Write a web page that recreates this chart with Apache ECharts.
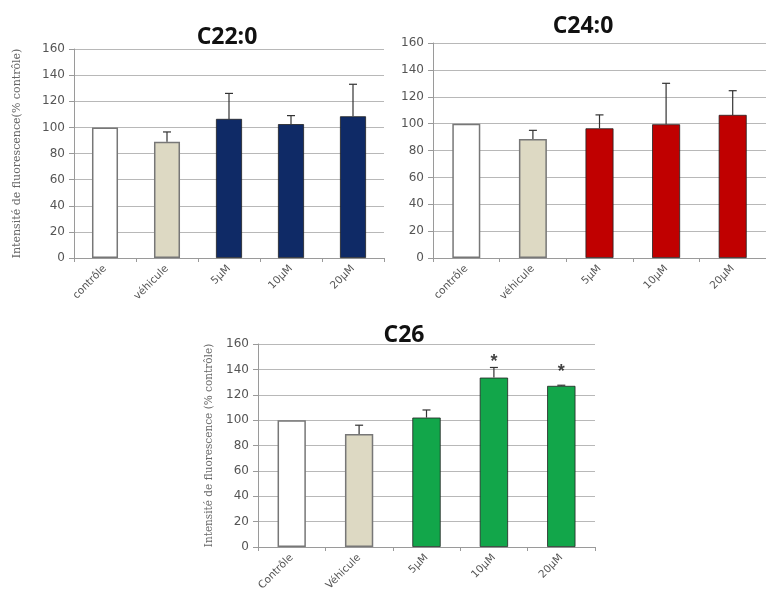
<!DOCTYPE html>
<html><head><meta charset="utf-8">
<script src="https://cdn.jsdelivr.net/npm/echarts@6/dist/echarts.min.js"></script>
<style>html,body{margin:0;padding:0;background:#fff}#c{width:766px;height:602px}</style>
</head><body><div id="c"></div>
<script>
const catsA = ['contrôle','véhicule','5µM','10µM','20µM'];
const catsC = ['Contrôle','Véhicule','5µM','10µM','20µM'];
const yTicks = [0,20,40,60,80,100,120,140,160];

const c22Values = [100, 89, 106.5, 102.5, 108.5];
const c22ErrTop = [null, 96.5, 126, 109, 133];
const c24Values = [100, 88.5, 96.5, 99.5, 106.5];
const c24ErrTop = [null, 95, 106.5, 130, 124.5];
const c26Values = [100, 89, 102, 133.5, 127];
const c26ErrTop = [null, 96, 108, 141.5, 127.5];
const c26Stars  = [null, null, null, 150, 141.5];

const titles = ['C22:0','C24:0','C26'];
const yName22 = 'Intensité de fluorescence(% contrôle)';
const yName26 = 'Intensité de fluorescence (% contrôle)';

const cWhite = '#ffffff', cVeh = '#ddd9c3';
const colors = [
  [cWhite, cVeh, '#0f2a66', '#0f2a66', '#0f2a66'],
  [cWhite, cVeh, '#c00000', '#c00000', '#c00000'],
  [cWhite, cVeh, '#12a64a', '#12a64a', '#12a64a']
];
const values = [c22Values, c24Values, c26Values];
const errs = [c22ErrTop, c24ErrTop, c26ErrTop];

const grids = [
  {left: 74, top: 49, width: 310, height: 209},
  {left: 433, top: 43, width: 340, height: 215},
  {left: 258, top: 344, width: 337, height: 203}
];
const font = 'DejaVu Sans';
const xAxes = [], yAxes = [], series = [];
[catsA, catsA, catsC].forEach((cats, i) => {
  xAxes.push({
    type: 'category', gridIndex: i, data: cats,
    axisLine: {lineStyle: {color: '#9a9a9a'}},
    axisTick: {show: true, length: 4, lineStyle: {color: '#9a9a9a'}},
    axisLabel: {rotate: 45, fontSize: 10.5, color: '#555', fontFamily: font, margin: 9}
  });
  yAxes.push({
    type: 'value', gridIndex: i, min: 0, max: 160, interval: 20,
    name: i === 0 ? yName22 : (i === 2 ? yName26 : ''),
    nameLocation: 'middle', nameGap: i === 0 ? 51 : 43,
    nameTextStyle: {fontSize: i === 0 ? 11 : 10.5, color: '#666', fontFamily: 'DejaVu Serif'},
    axisLine: {show: true, lineStyle: {color: '#9a9a9a'}},
    axisTick: {show: true, length: 5, lineStyle: {color: '#9a9a9a'}},
    axisLabel: {fontSize: 12, color: '#555', fontFamily: font, margin: 9},
    splitLine: {lineStyle: {color: '#b8b8b8'}}
  });
  series.push({
    type: 'bar', xAxisIndex: i, yAxisIndex: i, barWidth: '42%',
    data: values[i].map((v, k) => ({value: v, itemStyle: {color: colors[i][k], borderColor: k < 2 ? '#777' : '#222', borderWidth: k < 2 ? 1.5 : 0.8}})),
    z: 2
  });
  series.push({
    type: 'custom', xAxisIndex: i, yAxisIndex: i, z: 3,
    data: values[i].map((v, k) => [k, v, errs[i][k]]),
    renderItem: function (params, api) {
      const top = api.value(2);
      if (top === null || top === undefined || isNaN(top)) return null;
      const b = api.coord([api.value(0), api.value(1)]);
      const t = api.coord([api.value(0), top]);
      const st = {stroke: '#333', lineWidth: 1.2};
      return {type: 'group', children: [
        {type: 'line', shape: {x1: b[0], y1: b[1], x2: t[0], y2: t[1]}, style: st},
        {type: 'line', shape: {x1: t[0] - 4, y1: t[1], x2: t[0] + 4, y2: t[1]}, style: st}
      ]};
    }
  });
});
series.push({
  type: 'scatter', xAxisIndex: 2, yAxisIndex: 2, symbolSize: 0, z: 4,
  data: c26Stars.map((v, k) => v === null ? null : [k, v]).filter(d => d),
  label: {show: true, formatter: '*', position: 'inside', fontSize: 18, fontWeight: 'bold', color: '#111', offset: [0, 5]}
});

const tStyle = {fontSize: 23, fontWeight: 'bold', color: '#111', fontFamily: 'Open Sans'};
const chart = echarts.init(document.getElementById('c'), null, {renderer: 'canvas'});
chart.setOption({
  animation: false,
  backgroundColor: '#fff',
  title: [
    {text: titles[0], left: 222, top: 21, textAlign: 'center', textStyle: tStyle},
    {text: titles[1], left: 578, top: 10, textAlign: 'center', textStyle: tStyle},
    {text: titles[2], left: 399, top: 319, textAlign: 'center', textStyle: tStyle}
  ],
  grid: grids,
  xAxis: xAxes,
  yAxis: yAxes,
  series: series
});
</script></body></html>
